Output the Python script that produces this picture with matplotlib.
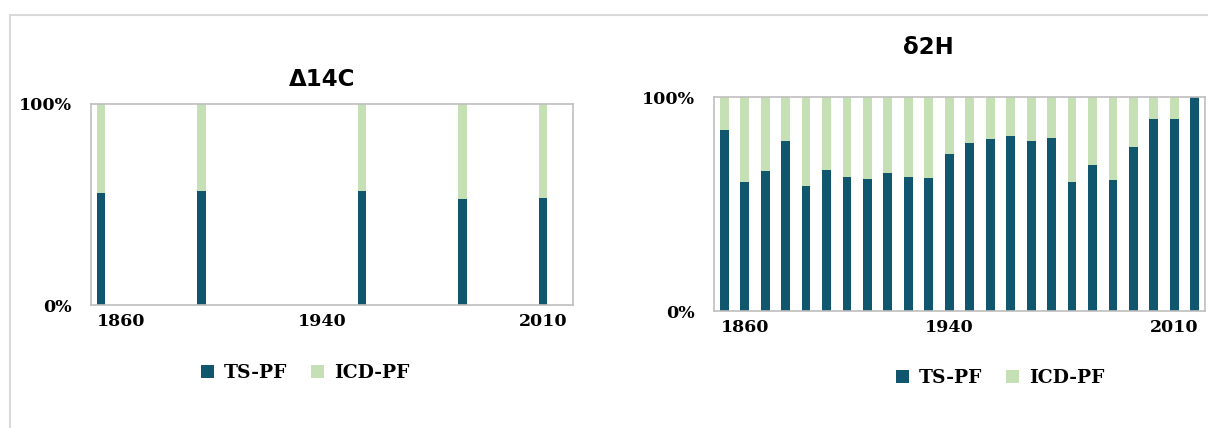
import numpy as np
import matplotlib.pyplot as plt
from matplotlib.patches import Rectangle

# 24 sampling slots shared by both panels
n_slots = 24
tick_pos = [1, 11, 22]
tick_labels = ["1860", "1940", "2010"]

# delta-14C: only five slots sampled
c14_slots = [0, 5, 13, 18, 22]
c14_ts = [0.555, 0.568, 0.565, 0.529, 0.532]

# delta-2H: all slots
h2_ts = [0.848, 0.604, 0.656, 0.796, 0.585, 0.659, 0.625, 0.615, 0.647, 0.625,
         0.622, 0.735, 0.785, 0.805, 0.817, 0.793, 0.808, 0.604, 0.680, 0.610,
         0.768, 0.899, 0.896, 1.000]

dark = "#10566F"
light = "#C5E0B4"
serif = {"family": "DejaVu Serif", "weight": "bold"}

fig = plt.figure(figsize=(12.08, 4.28), dpi=100)
W, H = 1208, 428

# outer chart frame
fig.patches.append(Rectangle((10 / W, -0.1), 1.2, (H - 15) / H + 0.1,
                             transform=fig.transFigure, fill=False,
                             edgecolor="#D9D9D9", linewidth=1.5))


def panel(rect, slots, ts, title, title_xy, leg_xy):
    ax = fig.add_axes([rect[0] / W, 1 - rect[3] / H,
                       (rect[2] - rect[0]) / W, (rect[3] - rect[1]) / H])
    slots = np.array(slots)
    ts = np.array(ts)
    ax.bar(slots, ts, width=0.43, color=dark, label="TS-PF")
    ax.bar(slots, 1 - ts, bottom=ts, width=0.43, color=light, label="ICD-PF")
    ax.set_xlim(-0.5, n_slots - 0.5)
    ax.set_ylim(0, 1)
    ax.set_yticks([0, 1])
    ax.set_yticklabels(["0%", "100%"], fontdict=serif, fontsize=12.5)
    ax.set_xticks(tick_pos)
    ax.set_xticklabels(tick_labels, fontdict=serif, fontsize=12.5)
    ax.tick_params(axis="y", length=0, pad=14)
    ax.tick_params(axis="x", length=0, pad=6)
    for s in ax.spines.values():
        s.set_color("#BFBFBF")
        s.set_linewidth(1.2)
    fig.text(title_xy[0] / W, 1 - title_xy[1] / H, title,
             ha="center", va="center", fontsize=16.5, fontweight="bold",
             family="DejaVu Sans")
    ax.legend(loc="center", bbox_to_anchor=(leg_xy[0] / W, 1 - leg_xy[1] / H),
              bbox_transform=fig.transFigure, ncol=2, frameon=False,
              prop={"family": "DejaVu Serif", "weight": "bold", "size": 13.5},
              handlelength=0.7, handleheight=0.7, columnspacing=1.3,
              handletextpad=0.5)
    return ax


panel((91, 104, 573, 305), c14_slots, c14_ts, "Δ14C", (322, 80), (305, 373))
panel((714, 97, 1205, 311), list(range(n_slots)), h2_ts, "δ2H", (928, 47),
      (1000, 378))

fig.savefig("out.png", dpi=100)
